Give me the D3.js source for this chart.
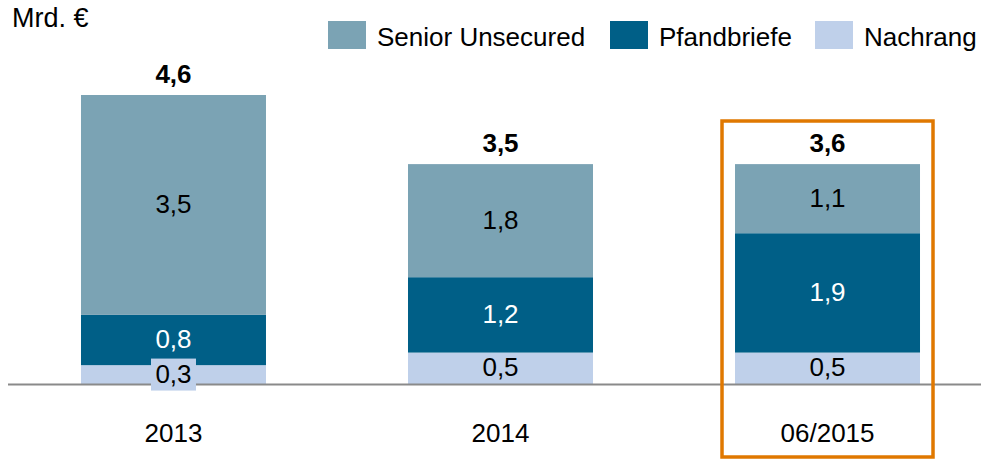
<!DOCTYPE html>
<html>
<head>
<meta charset="utf-8">
<script src="https://cdn.jsdelivr.net/npm/d3@7"></script>
<style>
  html, body { margin: 0; padding: 0; background: #fff; }
  svg { display: block; font-family: "Liberation Sans", Arial, sans-serif; }
</style>
</head>
<body>
<svg id="chart" width="981" height="459"></svg>
<script>
const categories = ["2013", "2014", "06/2015"];
const seriesNames = ["Nachrang", "Pfandbriefe", "Senior Unsecured"];
const nachrang = [0.3, 0.5, 0.5];
const pfandbriefe = [0.8, 1.2, 1.9];
const senior = [3.5, 1.8, 1.1];
const totalLabels = ["4,6", "3,5", "3,6"];
const legendOrder = ["Senior Unsecured", "Pfandbriefe", "Nachrang"];
const unitLabel = "Mrd. €";

const colors = {
  "Senior Unsecured": "#7ba3b4",
  "Pfandbriefe": "#005f87",
  "Nachrang": "#bfd0ea"
};
const textColors = {
  "Senior Unsecured": "#000",
  "Pfandbriefe": "#fff",
  "Nachrang": "#000"
};

const table = categories.map((c, i) => ({
  cat: c,
  "Nachrang": nachrang[i],
  "Pfandbriefe": pfandbriefe[i],
  "Senior Unsecured": senior[i]
}));

const svg = d3.select("#chart");
const fmt = v => d3.format(".1f")(v).replace(".", ",");

const x = d3.scaleBand().domain(categories).range([10, 991])
  .paddingInner(0.4343).paddingOuter(0.2171);
const y = d3.scaleLinear().domain([0, 4.6]).range([384, 95]);

const stack = d3.stack().keys(seriesNames)(table);

// bars
const layers = svg.append("g").selectAll("g").data(stack).join("g")
  .attr("fill", d => colors[d.key]);
layers.selectAll("rect").data(d => d.map(p => Object.assign(p, {key: d.key}))).join("rect")
  .attr("x", d => x(d.data.cat))
  .attr("width", x.bandwidth())
  .attr("y", d => y(d[1]))
  .attr("height", d => y(d[0]) - y(d[1]));

// axis baseline
svg.append("line")
  .attr("x1", 8).attr("x2", 981)
  .attr("y1", y(0) + 0.5).attr("y2", y(0) + 0.5)
  .attr("stroke", "#8a8a8a").attr("stroke-width", 2);

// segment labels
const lbl = svg.append("g").attr("font-size", 26).attr("text-anchor", "middle");
stack.forEach(layer => {
  layer.forEach(p => {
    const cx = x(p.data.cat) + x.bandwidth() / 2;
    const cy = (y(p[0]) + y(p[1])) / 2;
    const h = y(p[0]) - y(p[1]);
    if (h < 24) {
      // small segment: label on a background box
      lbl.append("rect")
        .attr("x", cx - 22.5).attr("y", cy - 16)
        .attr("width", 45).attr("height", 32)
        .attr("fill", colors[layer.key]);
    }
    lbl.append("text")
      .attr("x", cx).attr("y", cy + 8)
      .attr("fill", textColors[layer.key])
      .text(fmt(p[1] - p[0]));
  });
});

// totals
svg.append("g").attr("font-size", 26).attr("font-weight", "bold").attr("text-anchor", "middle")
  .selectAll("text").data(table).join("text")
  .attr("x", d => x(d.cat) + x.bandwidth() / 2)
  .attr("y", (d) => y(d["Nachrang"] + d["Pfandbriefe"] + d["Senior Unsecured"]) - 12)
  .text((d, i) => totalLabels[i]);

// category axis labels
const xAxis = d3.axisBottom(x).tickSize(0).tickPadding(0);
const ax = svg.append("g").attr("transform", `translate(0, 424)`).call(xAxis);
ax.select(".domain").remove();
ax.selectAll("text").attr("font-size", 26).attr("fill", "#000")
  .attr("font-family", "Liberation Sans, Arial, sans-serif")
  .attr("dy", "0.7em");

// highlight box around last category
const last = categories[categories.length - 1];
const lcx = x(last) + x.bandwidth() / 2;
svg.append("rect")
  .attr("x", lcx - 105.5).attr("y", 121)
  .attr("width", 211).attr("height", 336)
  .attr("fill", "none").attr("stroke", "#e07800").attr("stroke-width", 3.5);

// unit label
svg.append("text").attr("x", 12).attr("y", 27).attr("font-size", 27).text(unitLabel);

// legend
const legendX = [328, 610, 815];
const lg = svg.append("g").selectAll("g").data(legendOrder).join("g")
  .attr("transform", (d, i) => `translate(${legendX[i]}, 21)`);
lg.append("rect").attr("width", 38).attr("height", 28).attr("fill", d => colors[d]);
lg.append("text").attr("x", 49).attr("y", 25).attr("font-size", 26).text(d => d);
</script>
</body>
</html>
